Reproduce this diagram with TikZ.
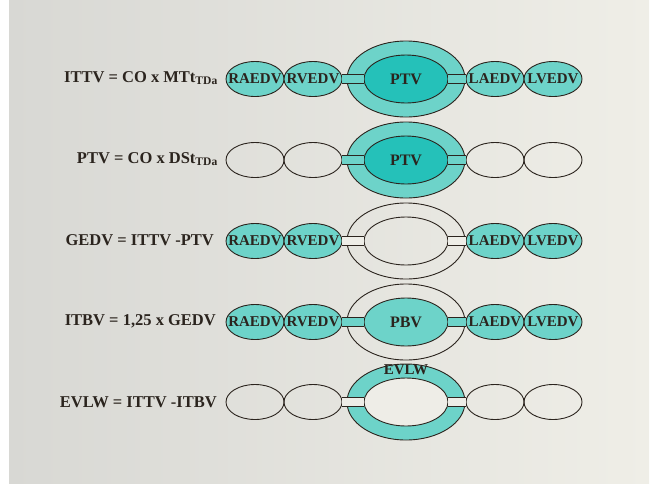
\documentclass[tikz,border=0pt]{standalone}
\usepackage{fontspec}
\setmainfont{Liberation Serif}
\usetikzlibrary{shapes.geometric,positioning}

\definecolor{tealLight}{HTML}{6DD3C9}
\definecolor{tealDark}{HTML}{25C1B9}
\definecolor{inkBrown}{HTML}{2B241E}
\definecolor{bgLeft}{HTML}{D8D8D4}
\definecolor{bgRight}{HTML}{EFEEE7}
\definecolor{paleFill}{HTML}{EEEDE7}
% label text inside a chamber does not widen the ellipse
\newcommand{\vlab}[1]{\makebox[0pt]{#1}}

\begin{document}
\begin{tikzpicture}[x=1pt,y=-1pt,
    chamberS/.style={ellipse,draw=inkBrown,line width=0.9pt,minimum width=58pt,minimum height=35pt,inner sep=0pt,font=\fontsize{15}{15}\selectfont\bfseries,text=inkBrown},
    outerRing/.style={ellipse,draw=inkBrown,line width=0.9pt,minimum width=118pt,minimum height=76pt,inner sep=0pt},
    innerCore/.style={ellipse,draw=inkBrown,line width=0.9pt,minimum width=84pt,minimum height=48pt,inner sep=0pt,font=\fontsize{16}{16}\selectfont\bfseries,text=inkBrown},
    tube/.style={draw=inkBrown,line width=0.9pt,double distance=8pt,shorten <=-0.8pt,shorten >=-0.8pt},
    volEq/.style={anchor=east,inner sep=0pt,font=\fontsize{16.5}{18}\selectfont\bfseries,text=inkBrown},
]
\useasboundingbox (0,0) rectangle (654,483);
\shade[left color=bgLeft,right color=bgRight] (9,0) rectangle (649,483);

% ITTV
\node[volEq] (ittv) at (218,78) {ITTV = CO x MTt\textsubscript{TDa}};
\node[outerRing,fill=tealLight] (ring1) at (406,79) {};
\node[innerCore,fill=tealDark] (core1) at (406,79) {PTV};
\node[chamberS,fill=tealLight] (ra1) at (255,79) {\vlab{RAEDV}};
\node[chamberS,fill=tealLight] (rv1) at (313,79) {\vlab{RVEDV}};
\node[chamberS,fill=tealLight] (la1) at (495,79) {\vlab{LAEDV}};
\node[chamberS,fill=tealLight] (lv1) at (553,79) {\vlab{LVEDV}};
\draw[tube,double=tealLight] (rv1.east) -- (core1.west);
\draw[tube,double=tealLight] (core1.east) -- (la1.west);

% PTV
\node[volEq] (ptv) at (218,159) {PTV = CO x DSt\textsubscript{TDa}};
\node[outerRing,fill=tealLight] (ring2) at (406,160) {};
\node[innerCore,fill=tealDark] (core2) at (406,160) {PTV};
\node[chamberS] (ra2) at (255,160) {};
\node[chamberS] (rv2) at (313,160) {};
\node[chamberS] (la2) at (495,160) {};
\node[chamberS] (lv2) at (553,160) {};
\draw[tube,double=tealLight] (rv2.east) -- (core2.west);
\draw[tube,double=tealLight] (core2.east) -- (la2.west);

% GEDV
\node[volEq] (gedv) at (214,240) {GEDV = ITTV -PTV};
\node[outerRing] (ring3) at (406,241) {};
\node[innerCore] (core3) at (406,241) {};
\node[chamberS,fill=tealLight] (ra3) at (255,241) {\vlab{RAEDV}};
\node[chamberS,fill=tealLight] (rv3) at (313,241) {\vlab{RVEDV}};
\node[chamberS,fill=tealLight] (la3) at (495,241) {\vlab{LAEDV}};
\node[chamberS,fill=tealLight] (lv3) at (553,241) {\vlab{LVEDV}};
\draw[tube,double=paleFill] (rv3.east) -- (core3.west);
\draw[tube,double=paleFill] (core3.east) -- (la3.west);

% ITBV
\node[volEq] (itbv) at (216,321) {ITBV = 1,25 x GEDV};
\node[outerRing] (ring4) at (406,322) {};
\node[innerCore,fill=tealLight] (core4) at (406,322) {PBV};
\node[chamberS,fill=tealLight] (ra4) at (255,322) {\vlab{RAEDV}};
\node[chamberS,fill=tealLight] (rv4) at (313,322) {\vlab{RVEDV}};
\node[chamberS,fill=tealLight] (la4) at (495,322) {\vlab{LAEDV}};
\node[chamberS,fill=tealLight] (lv4) at (553,322) {\vlab{LVEDV}};
\draw[tube,double=tealLight] (rv4.east) -- (core4.west);
\draw[tube,double=tealLight] (core4.east) -- (la4.west);

% EVLW
\node[volEq] (evlw) at (217,402) {EVLW = ITTV -ITBV};
\node[outerRing,fill=tealLight] (ring5) at (406,402) {};
\node[innerCore,fill=paleFill] (core5) at (406,402) {};
\node[chamberS] (ra5) at (255,402) {};
\node[chamberS] (rv5) at (313,402) {};
\node[chamberS] (la5) at (495,402) {};
\node[chamberS] (lv5) at (553,402) {};
\draw[tube,double=paleFill] (rv5.east) -- (core5.west);
\draw[tube,double=paleFill] (core5.east) -- (la5.west);
\node[anchor=north,inner sep=1pt,font=\fontsize{15}{15}\selectfont\bfseries,text=inkBrown] (evlwTag) at (ring5.north) {EVLW};
\end{tikzpicture}
\end{document}
